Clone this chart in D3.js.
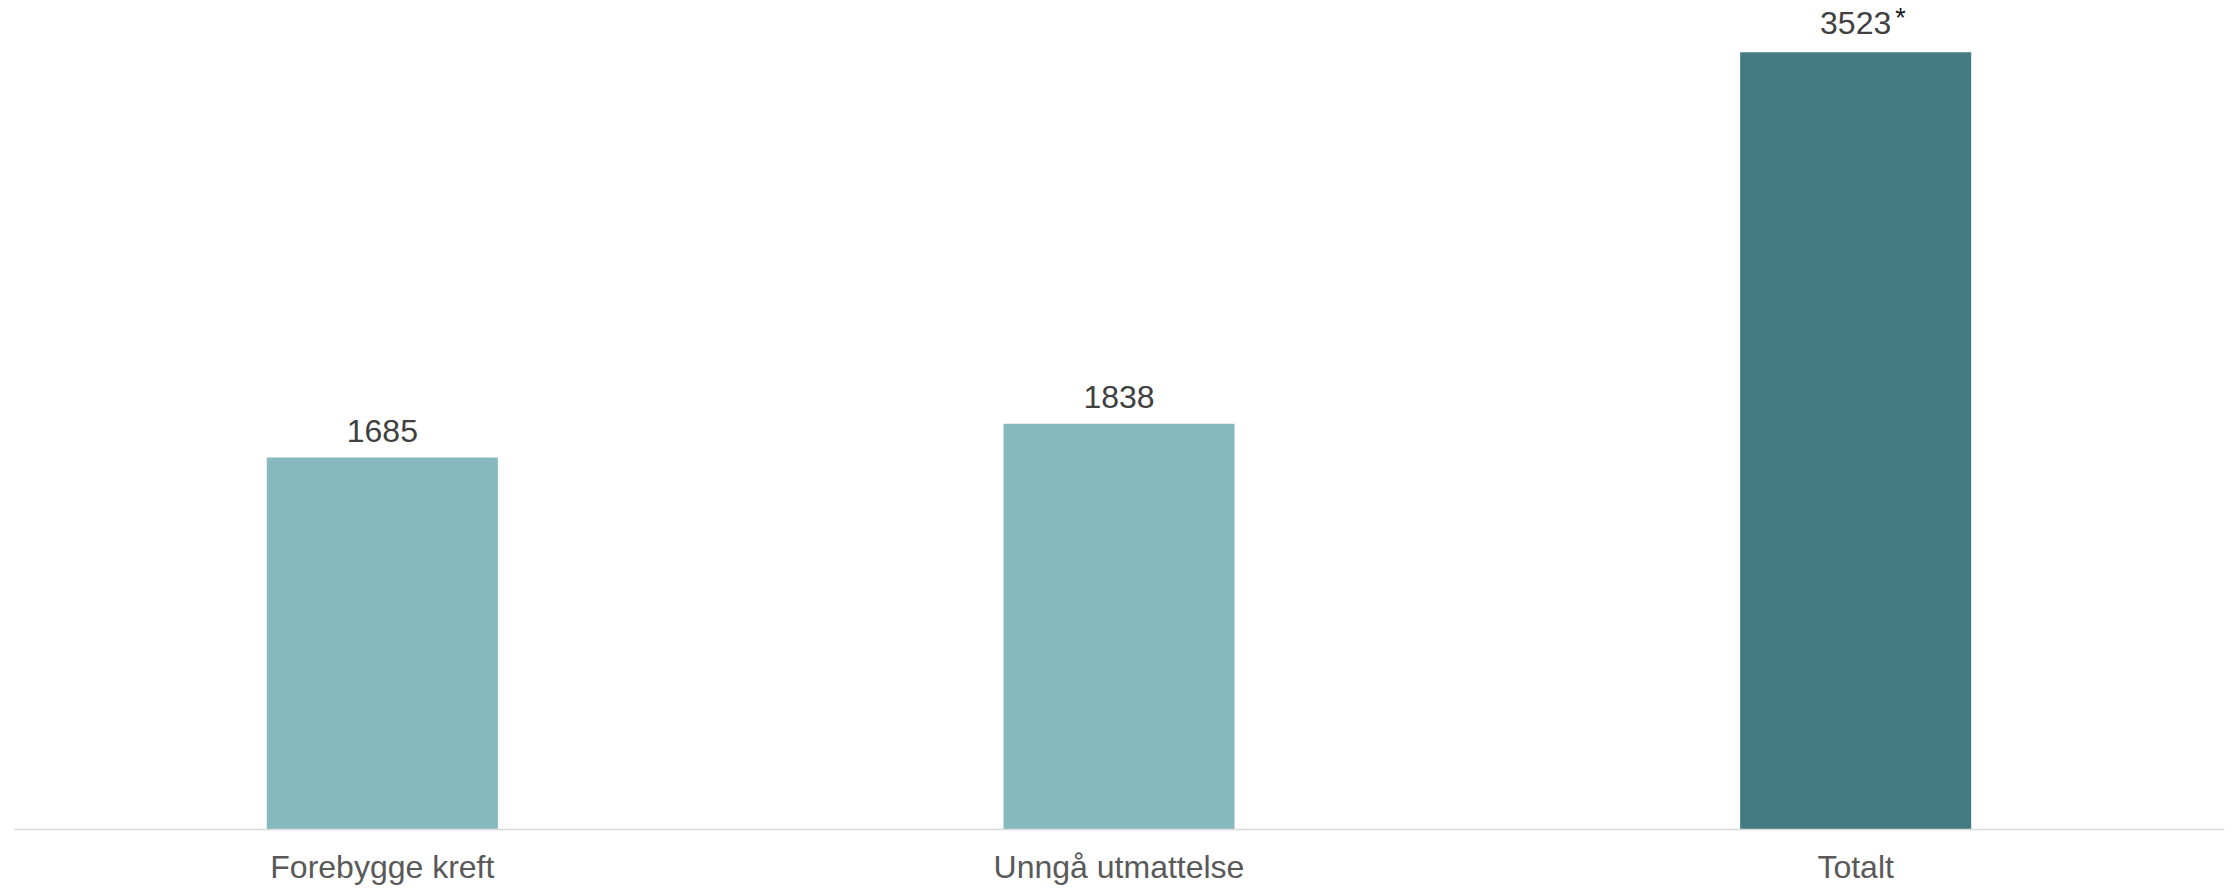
<!DOCTYPE html>
<html>
<head>
<meta charset="utf-8">
<script src="https://cdn.jsdelivr.net/npm/d3@7"></script>
<style>
  html, body { margin: 0; padding: 0; background: #ffffff; }
  svg { display: block; }
</style>
</head>
<body>
<svg id="chart" width="2236" height="888"></svg>
<script>
// Chart data
const categories = ["Forebygge kreft", "Unngå utmattelse", "Totalt"];
const values = [1685, 1838, 3523];
const notes = ["", "", "*"];
const barColors = ["#85b9be", "#85b9be", "#437b82"];

const width = 2236, height = 888;
const baseline = 829;

const svg = d3.select("#chart");

const x = d3.scaleBand()
  .domain(categories)
  .range([14, 2224])
  .paddingInner(0.6864)
  .paddingOuter(0.3432);

const y = d3.scaleLinear()
  .domain([0, 3760])
  .range([baseline, 0]);

// Bars
svg.append("g")
  .selectAll("rect")
  .data(values)
  .join("rect")
  .attr("x", (d, i) => x(categories[i]))
  .attr("y", d => y(d))
  .attr("width", x.bandwidth())
  .attr("height", d => y(0) - y(d))
  .attr("fill", (d, i) => barColors[i]);

// Category axis along the baseline
const axis = svg.append("g")
  .attr("transform", `translate(0,${baseline})`)
  .call(d3.axisBottom(x).tickSize(0).tickPadding(0));
axis.select(".domain")
  .attr("stroke", "#d9d9d9")
  .attr("stroke-width", 1.6);
axis.selectAll(".tick text")
  .attr("dy", null)
  .attr("y", 49)
  .attr("font-family", "Liberation Sans, Arial, sans-serif")
  .attr("font-size", 32)
  .attr("fill", "#595959");

// Value labels above each bar
const labels = svg.append("g")
  .selectAll("g")
  .data(values)
  .join("g")
  .attr("transform", (d, i) =>
    `translate(${x(categories[i]) + x.bandwidth() / 2},${y(d) - (notes[i] ? 18 : 15.5)})`);

labels.append("text")
  .attr("class", "val")
  .attr("text-anchor", "middle")
  .attr("font-family", "Liberation Sans, Arial, sans-serif")
  .attr("font-size", 32)
  .attr("fill", "#404040")
  .text(d => d);

// Footnote marker raised beside the value
labels.each(function (d, i) {
  if (!notes[i]) return;
  const g = d3.select(this);
  const w = g.select("text.val").node().getComputedTextLength();
  g.append("text")
    .attr("x", w / 2 + 4)
    .attr("y", -7)
    .attr("font-family", "Liberation Sans, Arial, sans-serif")
    .attr("font-size", 27)
    .attr("fill", "#1a1a1a")
    .text(notes[i]);
});
</script>
</body>
</html>
